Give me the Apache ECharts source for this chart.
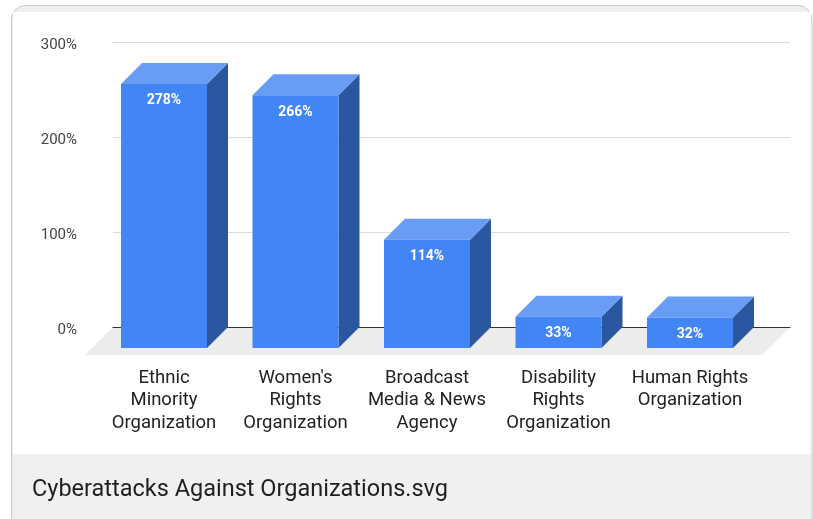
<!DOCTYPE html>
<html>
<head>
<meta charset="utf-8">
<script src="https://cdn.jsdelivr.net/npm/echarts@6/dist/echarts.min.js"></script>
<style>
  html, body { margin: 0; padding: 0; background: #ffffff; }
  #chart { width: 813px; height: 519px; }
</style>
</head>
<body>
<div id="chart"></div>
<script>
// Categories and values (percent)
const categories = [
  'Ethnic\nMinority\nOrganization',
  "Women's\nRights\nOrganization",
  'Broadcast\nMedia & News\nAgency',
  'Disability\nRights\nOrganization',
  'Human Rights\nOrganization'
];
const values = [278, 266, 114, 33, 32];
const yTicks = [0, 100, 200, 300];
const caption = 'Cyberattacks Against Organizations.svg';

const DEPTH = 21;        // extrusion of each bar toward the back wall
const FLOOR_DEPTH = 28;  // floor extends a bit further forward than the bars
const FONT = 'Roboto, "Noto Sans", sans-serif';

const chart = echarts.init(document.getElementById('chart'), null, { renderer: 'canvas' });

function renderBar(params, api) {
  const idx = api.value(0);
  const val = api.value(1);
  const base = api.coord([idx, 0]);
  const top = api.coord([idx, val]);
  const bw = api.size([1, 0])[0] * 0.654;
  const x0 = base[0] - bw / 2, x1 = base[0] + bw / 2;
  const by = base[1], ty = top[1];
  const d = DEPTH;
  return {
    type: 'group',
    children: [
      { type: 'polygon', shape: { points: [[x1, ty], [x1 + d, ty - d], [x1 + d, by - d], [x1, by]] },
        style: { fill: '#2b56a0' } },
      { type: 'polygon', shape: { points: [[x0, ty], [x0 + d, ty - d], [x1 + d, ty - d], [x1, ty]] },
        style: { fill: '#699df5' } },
      { type: 'rect', shape: { x: x0, y: ty, width: bw, height: by - ty },
        style: { fill: '#4285f4' } },
      { type: 'text', x: base[0], y: ty + 17,
        style: { text: val + '%', fill: '#ffffff', font: 'bold 14px ' + FONT,
                 align: 'center', verticalAlign: 'middle' } }
    ]
  };
}

function renderFloor(params, api) {
  const bl = api.coord([0, 0]);
  const br = api.coord([1, 0]);
  const f = FLOOR_DEPTH;
  return {
    type: 'polygon',
    shape: { points: [bl, br, [br[0] - f, br[1] + f], [bl[0] - f, bl[1] + f]] },
    style: { fill: '#ececec' }
  };
}

chart.setOption({
  animation: false,
  textStyle: { fontFamily: FONT },
  graphic: [
    { type: 'rect', z: -10, shape: { x: 11.5, y: 5.5, width: 800.5, height: 530, r: 14 },
      style: { fill: '#f0f0f0', stroke: '#c9c9c9', lineWidth: 1 } },
    { type: 'rect', z: -9, shape: { x: 13, y: 12, width: 798, height: 442 },
      style: { fill: '#ffffff' } },
    { type: 'text', x: 32, y: 490,
      style: { text: caption, font: '23.5px ' + FONT, fill: '#1f1f1f', verticalAlign: 'middle' } }
  ],
  grid: [
    // back wall: gridlines and the y axis
    { left: 113, right: 23, top: 42, bottom: 192 },
    // front plane: bar faces and category labels
    { left: 98.25, right: 57.25, top: 63, bottom: 171 }
  ],
  xAxis: [
    { gridIndex: 0, type: 'value', min: 0, max: 1, show: true,
      axisLine: { show: true, onZero: false, lineStyle: { color: '#333333', width: 1 } },
      axisTick: { show: false }, axisLabel: { show: false }, splitLine: { show: false } },
    { gridIndex: 1, type: 'category', data: categories,
      axisLine: { show: false }, axisTick: { show: false },
      axisLabel: { interval: 0, margin: 19, fontSize: 18.5, lineHeight: 22.5,
                   color: '#222222', fontFamily: FONT } }
  ],
  yAxis: [
    { gridIndex: 0, type: 'value', min: yTicks[0], max: yTicks[yTicks.length - 1], interval: 100,
      axisLine: { show: false }, axisTick: { show: false },
      axisLabel: { margin: 36, color: '#444444',
                   formatter: v => '{t|' + v + '%}',
                   rich: { t: { fontSize: 15, color: '#444444', fontFamily: FONT,
                                padding: [6, 0, 0, 0] } } },
      splitLine: { lineStyle: { color: '#dcdcdc', width: 1 } } },
    { gridIndex: 1, type: 'value', min: 0, max: 300, show: false }
  ],
  series: [
    { type: 'custom', xAxisIndex: 0, yAxisIndex: 0, z: -1, silent: true,
      renderItem: renderFloor, data: [[0]] },
    { type: 'custom', xAxisIndex: 1, yAxisIndex: 1, z: 2, silent: true,
      renderItem: renderBar,
      data: values.map((v, i) => [i, v]) }
  ]
});
</script>
</body>
</html>
